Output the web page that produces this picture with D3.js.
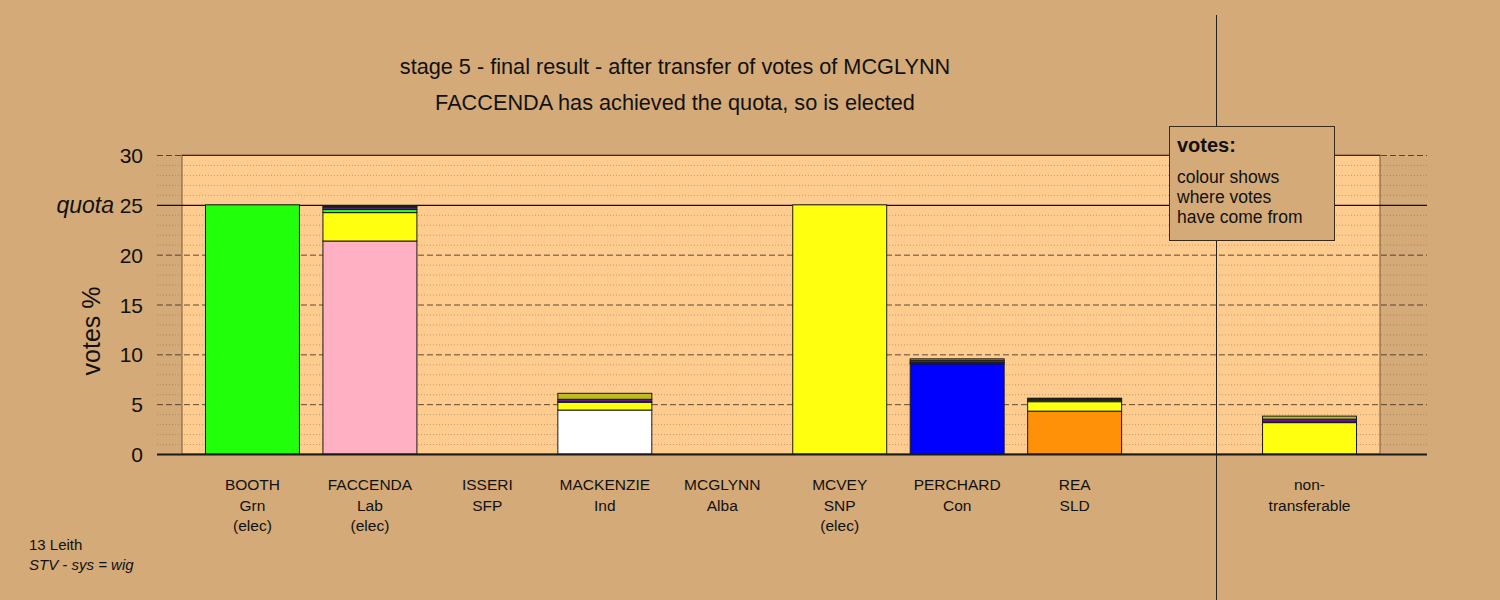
<!DOCTYPE html>
<html>
<head>
<meta charset="utf-8">
<script src="https://cdn.jsdelivr.net/npm/d3@7"></script>
<style>
  html, body { margin: 0; padding: 0; background: #D4AA78; }
  svg { display: block; font-family: "Liberation Sans", Arial, sans-serif; }
</style>
</head>
<body>
<svg id="chart" width="1500" height="600"></svg>
<script>
// ---------- data ----------
const candidates = ["BOOTH", "FACCENDA", "ISSERI", "MACKENZIE", "MCGLYNN", "MCVEY", "PERCHARD", "REA"];
const parties    = ["Grn", "Lab", "SFP", "Ind", "Alba", "SNP", "Con", "SLD"];
const elected    = [true, true, false, false, false, true, false, false];
const ownColours = ["#22FF0A", "#FFB0C2", "#999999", "#FFFFFF", "#888888", "#FFFF10", "#0000FF", "#FF9108"];

// votes % by origin (own first preferences, then transfers in stage order)
const ownVotes      = [25.0, 21.37, 0, 4.41, 0, 25.0, 9.05, 4.30];
const fromMCVEY     = [0,    2.85,  0, 0.78, 0, 0,    0.10, 0.95];
const fromBOOTH     = [0,    0.32,  0, 0.05, 0, 0,    0.05, 0.15];
const fromISSERI    = [0,    0.25,  0, 0.25, 0, 0,    0.20, 0.10];
const fromMCGLYNN   = [0,    0.10,  0, 0.60, 0, 0,    0.15, 0.10];

// non-transferable pile
const nonTransLabel = ["non-", "transferable"];
const nonTrans = {own: 0, fromMCVEY: 3.15, fromBOOTH: 0.05, fromISSERI: 0.30, fromMCGLYNN: 0.30};

const layerKeys = ["own", "fromMCVEY", "fromBOOTH", "fromISSERI", "fromMCGLYNN"];
const layerColours = {fromMCVEY: "#FFFF10", fromBOOTH: "#22FF0A", fromISSERI: "#66189A", fromMCGLYNN: "#BDBD1E"};

const yTicks = [0, 5, 10, 15, 20, 25, 30];
const quota = 25;
const titleLines = ["stage 5 - final result - after transfer of votes of MCGLYNN",
                    "FACCENDA has achieved the quota, so is elected"];
const footLines = ["13 Leith", "STV - sys = wig"];
const legendTitle = "votes:";
const legendLines = ["colour shows", "where votes", "have come from"];

// ---------- build table ----------
const rows = candidates.map((c, i) => ({
  name: c, party: parties[i], elected: elected[i], slot: i, ownColour: ownColours[i],
  own: ownVotes[i], fromMCVEY: fromMCVEY[i], fromBOOTH: fromBOOTH[i],
  fromISSERI: fromISSERI[i], fromMCGLYNN: fromMCGLYNN[i]
}));
rows.push(Object.assign({name: "", party: "", elected: false, slot: 9, ownColour: "#FFFFFF", nonTrans: true}, nonTrans));

// ---------- scales ----------
const svg = d3.select("#chart");
const x = d3.scaleLinear().domain([-0.6, 9.6]).range([182, 1380]);
const y = d3.scaleLinear().domain([0, 30]).range([454, 155]);
const barW = x(0.8) - x(0);
const gridX0 = x(-0.813), gridX1 = x(10.0);

// background
svg.append("rect").attr("width", 1500).attr("height", 600).attr("fill", "#D4AA78");

// plot fill
svg.append("rect")
  .attr("x", x(-0.6)).attr("y", y(30))
  .attr("width", x(9.6) - x(-0.6)).attr("height", y(0) - y(30))
  .attr("fill", "#FFCC8F").attr("stroke", "#7a5a3a").attr("stroke-width", 1);

// minor grid (every 1)
const g = svg.append("g");
g.selectAll("line.minor").data(d3.range(1, 30).filter(v => v % 5 !== 0)).join("line")
  .attr("x1", gridX0).attr("x2", gridX1)
  .attr("y1", d => y(d) + 0.5).attr("y2", d => y(d) + 0.5)
  .attr("stroke", "#8a6a4a").attr("stroke-width", 1).attr("stroke-dasharray", "1,2").attr("opacity", 0.5);

// major grid
g.selectAll("line.major").data(yTicks.filter(v => v !== 0 && v !== quota)).join("line")
  .attr("x1", gridX0).attr("x2", gridX1)
  .attr("y1", d => y(d) + 0.5).attr("y2", d => y(d) + 0.5)
  .attr("stroke", "#3a2a1a").attr("stroke-width", 1).attr("stroke-dasharray", "6,3").attr("opacity", 0.8);

// quota line
g.append("line").attr("x1", gridX0).attr("x2", gridX1)
  .attr("y1", y(quota) + 0.5).attr("y2", y(quota) + 0.5)
  .attr("stroke", "#111").attr("stroke-width", 1.3);

// top edge of fill solid
svg.append("line").attr("x1", x(-0.6)).attr("x2", x(9.6))
  .attr("y1", y(30) + 0.5).attr("y2", y(30) + 0.5).attr("stroke", "#3a2a1a").attr("stroke-width", 1);

// separator before non-transferable
svg.append("line").attr("x1", Math.round(x(8.2)) + 0.5).attr("x2", Math.round(x(8.2)) + 0.5).attr("y1", 15).attr("y2", 600)
  .attr("stroke", "#222").attr("stroke-width", 1);

// stacked bars
const stack = d3.stack().keys(layerKeys);
const series = stack(rows);
const barsG = svg.append("g");
series.forEach(s => {
  barsG.selectAll(null).data(s.filter(d => d[1] - d[0] > 0)).join("rect")
    .attr("x", d => x(d.data.slot) - barW / 2)
    .attr("width", barW)
    .attr("y", d => y(d[1]))
    .attr("height", d => y(d[0]) - y(d[1]))
    .attr("fill", d => s.key === "own" ? d.data.ownColour : layerColours[s.key])
    .attr("stroke", "#1a1a1a").attr("stroke-width", 1);
});

// zero axis line
svg.append("line").attr("x1", gridX0).attr("x2", gridX1)
  .attr("y1", y(0) + 0.5).attr("y2", y(0) + 0.5).attr("stroke", "#1a1a1a").attr("stroke-width", 2);

// y axis tick labels
const yAxis = d3.axisLeft(y).tickValues(yTicks).tickSize(0).tickPadding(0);
const ya = svg.append("g").attr("transform", `translate(143,0)`).call(yAxis);
ya.select(".domain").remove();
ya.selectAll("text").attr("font-size", 21).attr("fill", "#111")
  .attr("font-family", "'Liberation Sans', Arial, sans-serif").attr("dy", "0.36em");

svg.append("text").attr("x", 114).attr("y", y(quota)).attr("dy", "0.36em")
  .attr("text-anchor", "end").attr("font-size", 23).attr("font-style", "italic").attr("fill", "#111")
  .text("quota");

svg.append("text").attr("transform", "translate(100,331) rotate(-90)")
  .attr("text-anchor", "middle").attr("font-size", 25).attr("fill", "#111").text("votes %");

// titles
svg.selectAll("text.title").data(titleLines).join("text")
  .attr("x", 675).attr("y", (d, i) => 74 + i * 36)
  .attr("text-anchor", "middle").attr("font-size", 21.7).attr("fill", "#111").text(d => d);

// category labels
const labG = svg.append("g").attr("font-size", 15.5).attr("fill", "#111").attr("text-anchor", "middle");
rows.forEach(r => {
  const lines = r.nonTrans ? nonTransLabel : [r.name, r.party].concat(r.elected ? ["(elec)"] : []);
  lines.forEach((t, j) => {
    labG.append("text").attr("x", x(r.slot)).attr("y", 490 + j * 20.5).text(t);
  });
});

// footnote
svg.append("text").attr("x", 29).attr("y", 550).attr("font-size", 15).attr("fill", "#111").text(footLines[0]);
svg.append("text").attr("x", 29).attr("y", 570).attr("font-size", 15).attr("font-style", "italic").attr("fill", "#111").text(footLines[1]);

// legend box
const lg = svg.append("g");
lg.append("rect").attr("x", 1169.5).attr("y", 126.5).attr("width", 165).attr("height", 114)
  .attr("fill", "#D4AA78").attr("stroke", "#3a2a1a").attr("stroke-width", 1);
lg.append("text").attr("x", 1177).attr("y", 152).attr("font-size", 20).attr("font-weight", "bold")
  .attr("fill", "#111").text(legendTitle);
lg.selectAll("text.l").data(legendLines).join("text")
  .attr("x", 1177).attr("y", (d, i) => 183 + i * 20).attr("font-size", 17.5).attr("fill", "#111").text(d => d);
</script>
</body>
</html>
